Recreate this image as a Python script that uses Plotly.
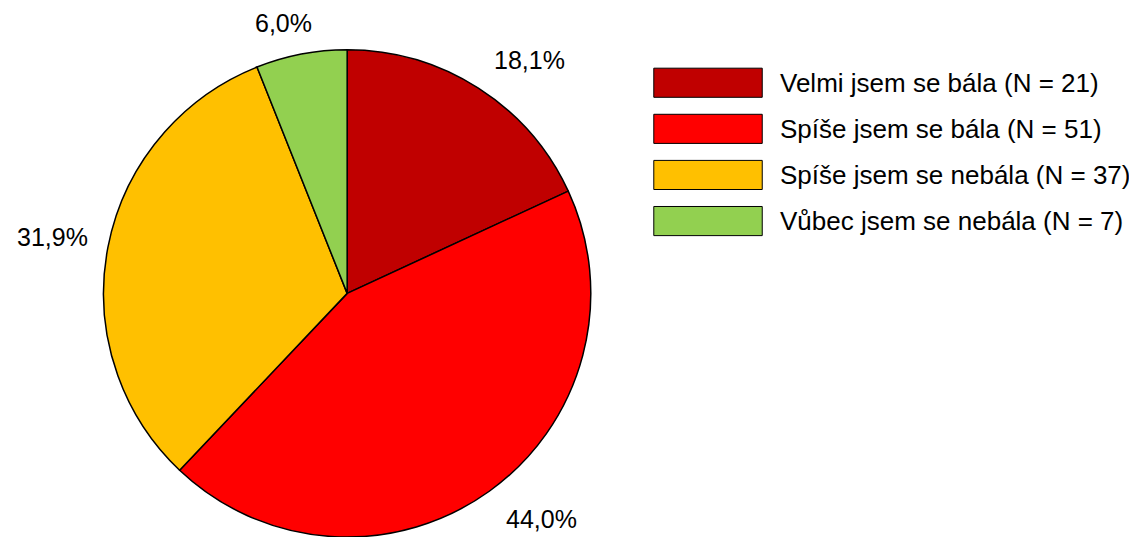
import math
import plotly.graph_objects as go

# data
labels = [
    "Velmi jsem se bála",
    "Spíše jsem se bála",
    "Spíše jsem se nebála",
    "Vůbec jsem se nebála",
]
counts = [21, 51, 37, 7]
colors = ["#C00000", "#FF0000", "#FFC000", "#92D050"]

W, H = 1137, 545
FONT = "Liberation Sans, Arial, sans-serif"

# pie domain in pixels: center x and half size (plotly draws the pie a bit inside it)
cx, half = 344, 251
cy = H - half

fig = go.Figure(go.Pie(
    labels=labels,
    values=counts,
    sort=False,
    direction="clockwise",
    rotation=0,
    marker=dict(colors=colors, line=dict(color="black", width=1.5)),
    textinfo="none",
    domain=dict(x=[(cx - half) / W, (cx + half) / W], y=[0, 2 * half / H]),
    showlegend=False,
    hoverinfo="label+value+percent",
))

# percentage labels just outside the rim, at each slice's mid angle
lab_size = 25
total = sum(counts)
start = 0.0
for n in counts:
    frac = n / total
    mid = math.radians((start + frac / 2) * 360)
    start += frac
    s, c = math.sin(mid), math.cos(mid)
    text = f"{frac * 100:.1f}%".replace(".", ",")
    tw, th = len(text) * 0.57 * lab_size, 0.95 * lab_size
    rl = half * 1.08
    px = cx + 3 + rl * s + tw / 2 * max(-1, min(1, 3 * s))
    py = cy - rl * c - th / 2 * max(-1, min(1, 3 * c))
    fig.add_annotation(xref="paper", yref="paper",
                       x=px / W, y=1 - py / H,
                       xanchor="center", yanchor="middle", showarrow=False,
                       text=text,
                       font=dict(family=FONT, size=lab_size, color="black"))

# legend drawn by hand: wide colour boxes as in the source chart
box_x0, box_x1 = 655, 765
row_top, row_step, box_h = 62, 47.5, 30
for i, (name, n, c) in enumerate(zip(labels, counts, colors)):
    y0 = row_top + i * row_step
    fig.add_shape(type="rect", xref="paper", yref="paper",
                  x0=box_x0 / W, x1=box_x1 / W,
                  y0=1 - (y0 + box_h) / H, y1=1 - y0 / H,
                  fillcolor=c, line=dict(color="black", width=1))
    fig.add_annotation(xref="paper", yref="paper",
                       x=781 / W, y=1 - (y0 + box_h / 2) / H,
                       xanchor="left", yanchor="middle", showarrow=False,
                       text=f"{name} (N = {n})",
                       font=dict(family=FONT, size=26, color="black"))

fig.update_layout(
    margin=dict(l=0, r=0, t=0, b=0),
    paper_bgcolor="white",
    plot_bgcolor="white",
    font=dict(family=FONT, color="black"),
)

fig.write_html("out.html")
